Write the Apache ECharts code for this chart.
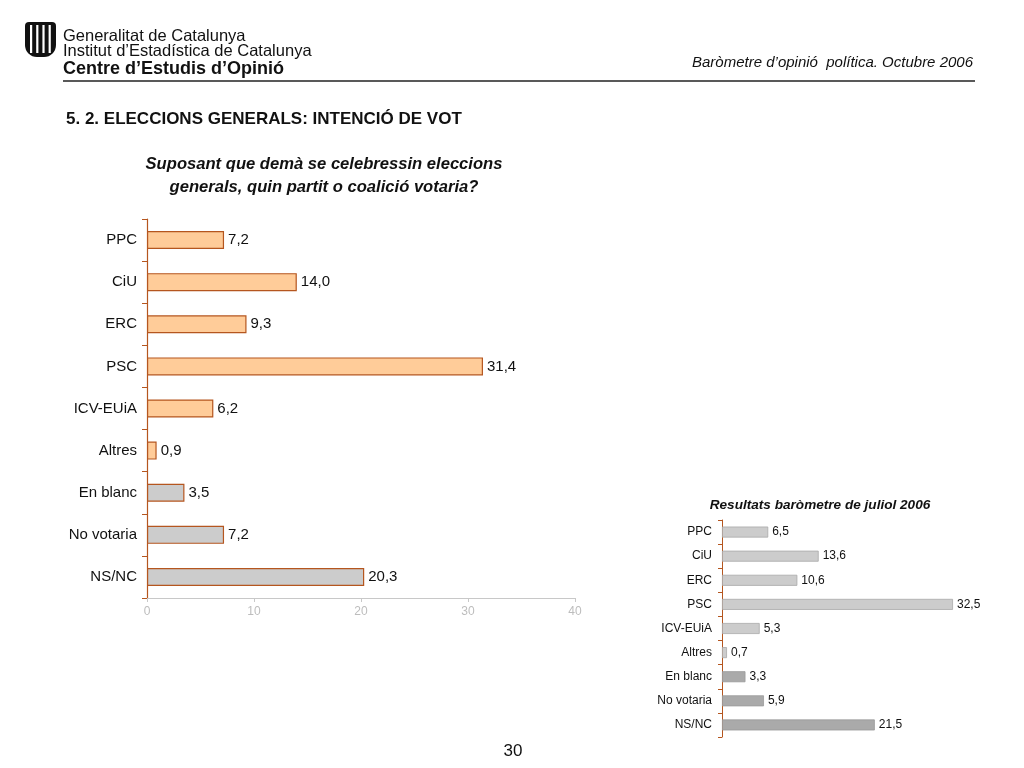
<!DOCTYPE html>
<html>
<head>
<meta charset="utf-8">
<script src="https://cdn.jsdelivr.net/npm/echarts@6/dist/echarts.min.js"></script>
<style>
html,body{margin:0;padding:0;background:#fff;}
#c{width:1024px;height:768px;}
</style>
</head>
<body>
<div id="c"></div>
<script>
const categories = ['PPC','CiU','ERC','PSC','ICV-EUiA','Altres','En blanc','No votaria','NS/NC'];
const octubre2006 = [7.2, 14.0, 9.3, 31.4, 6.2, 0.9, 3.5, 7.2, 20.3];
const juliol2006 = [6.5, 13.6, 10.6, 32.5, 5.3, 0.7, 3.3, 5.9, 21.5];
const xTicks = [0, 10, 20, 30, 40];

const FONT = '"Liberation Sans", Arial, sans-serif';
const fmt = p => p.value.toFixed(1).replace('.', ',');

const mainData = octubre2006.map((v, i) => ({
  value: v,
  itemStyle: { color: i < 6 ? '#FFCC99' : '#CCCCCC', borderColor: '#B5561F', borderWidth: 1.2 }
}));
const smallData = juliol2006.map((v, i) => ({
  value: v,
  itemStyle: { color: i < 6 ? '#CCCCCC' : '#AAAAAA', borderColor: i < 6 ? '#A8A8A8' : '#9A9A9A', borderWidth: 0.8 }
}));

const chart = echarts.init(document.getElementById('c'), null, { renderer: 'canvas' });

// logo
const logo = [];
logo.push({ type: 'rect', shape: { x: 25, y: 22, width: 31, height: 35, r: [4, 4, 12, 12] }, style: { fill: '#111' } });
for (let k = 0; k < 4; k++) {
  logo.push({ type: 'rect', shape: { x: 30 + k * 6.2, y: 25, width: 2.2, height: 28 }, style: { fill: '#fff' } });
}

const T = (o) => Object.assign({ padding: 0 }, o);

chart.setOption({
  animation: false,
  backgroundColor: '#fff',
  textStyle: { fontFamily: FONT },
  title: [
    T({ text: 'Generalitat de Catalunya', left: 63, top: 28, textStyle: { fontFamily: FONT, fontSize: 16.5, fontWeight: 'normal', color: '#111' } }),
    T({ text: 'Institut d\u2019Estadística de Catalunya', left: 63, top: 43, textStyle: { fontFamily: FONT, fontSize: 16.5, fontWeight: 'normal', color: '#111' } }),
    T({ text: 'Centre d\u2019Estudis d\u2019Opinió', left: 63, top: 60, textStyle: { fontFamily: FONT, fontSize: 18, fontWeight: 'bold', color: '#111' } }),
    T({ text: 'Baròmetre d\u2019opinió  política. Octubre 2006', right: 51, top: 55, textStyle: { fontFamily: FONT, fontSize: 15, fontStyle: 'italic', fontWeight: 'normal', color: '#111' } }),
    T({ text: '5. 2. ELECCIONS GENERALS: INTENCIÓ DE VOT', left: 66, top: 111, textStyle: { fontFamily: FONT, fontSize: 17, fontWeight: 'bold', color: '#111' } }),
    T({ text: 'Suposant que demà se celebressin eleccions\ngenerals, quin partit o coalició votaria?', left: 324, top: 153, textAlign: 'center',
      textStyle: { fontFamily: FONT, fontSize: 16.6, fontStyle: 'italic', fontWeight: 'bold', color: '#111', lineHeight: 23 } }),
    T({ text: 'Resultats baròmetre de juliol 2006', left: 820, top: 498, textAlign: 'center',
      textStyle: { fontFamily: FONT, fontSize: 13.6, fontStyle: 'italic', fontWeight: 'bold', color: '#111' } }),
    T({ text: '30', left: 513, top: 743, textAlign: 'center', textStyle: { fontFamily: FONT, fontSize: 17, fontWeight: 'normal', color: '#111' } })
  ],
  graphic: logo.concat([
    { type: 'line', shape: { x1: 63, y1: 81, x2: 975, y2: 81 }, style: { stroke: '#222', lineWidth: 1.5 } }
  ]),
  grid: [
    { left: 147, top: 219, width: 428, height: 379 },
    { left: 722, top: 520, width: 231, height: 217 }
  ],
  xAxis: [
    { gridIndex: 0, type: 'value', min: xTicks[0], max: xTicks[xTicks.length - 1], interval: xTicks[1] - xTicks[0],
      axisLine: { show: true, lineStyle: { color: '#C8C8C8', width: 1 } },
      axisTick: { show: true, length: 4, lineStyle: { color: '#C8C8C8' } },
      axisLabel: { color: '#BDBDBD', fontSize: 12, fontFamily: FONT, margin: 8 },
      splitLine: { show: false } },
    { gridIndex: 1, type: 'value', min: 0, max: 32.5, show: false, splitLine: { show: false } }
  ],
  yAxis: [
    { gridIndex: 0, type: 'category', data: categories, inverse: true,
      axisLine: { show: true, lineStyle: { color: '#B5561F', width: 1.2 } },
      axisTick: { show: true, length: 5, lineStyle: { color: '#B5561F' } },
      axisLabel: { color: '#111', fontSize: 15, fontFamily: FONT, margin: 10 } },
    { gridIndex: 1, type: 'category', data: categories, inverse: true,
      axisLine: { show: true, lineStyle: { color: '#B5561F', width: 1 } },
      axisTick: { show: true, length: 4, lineStyle: { color: '#B5561F' } },
      axisLabel: { color: '#111', fontSize: 12, fontFamily: FONT, margin: 10 } }
  ],
  series: [
    { type: 'bar', xAxisIndex: 0, yAxisIndex: 0, data: mainData, barWidth: 18,
      label: { show: true, position: 'right', distance: 4, formatter: fmt, color: '#111', fontSize: 15, fontFamily: FONT } },
    { type: 'bar', xAxisIndex: 1, yAxisIndex: 1, data: smallData, barWidth: 11,
      label: { show: true, position: 'right', distance: 4, formatter: fmt, color: '#111', fontSize: 12, fontFamily: FONT } }
  ]
});
</script>
</body>
</html>
